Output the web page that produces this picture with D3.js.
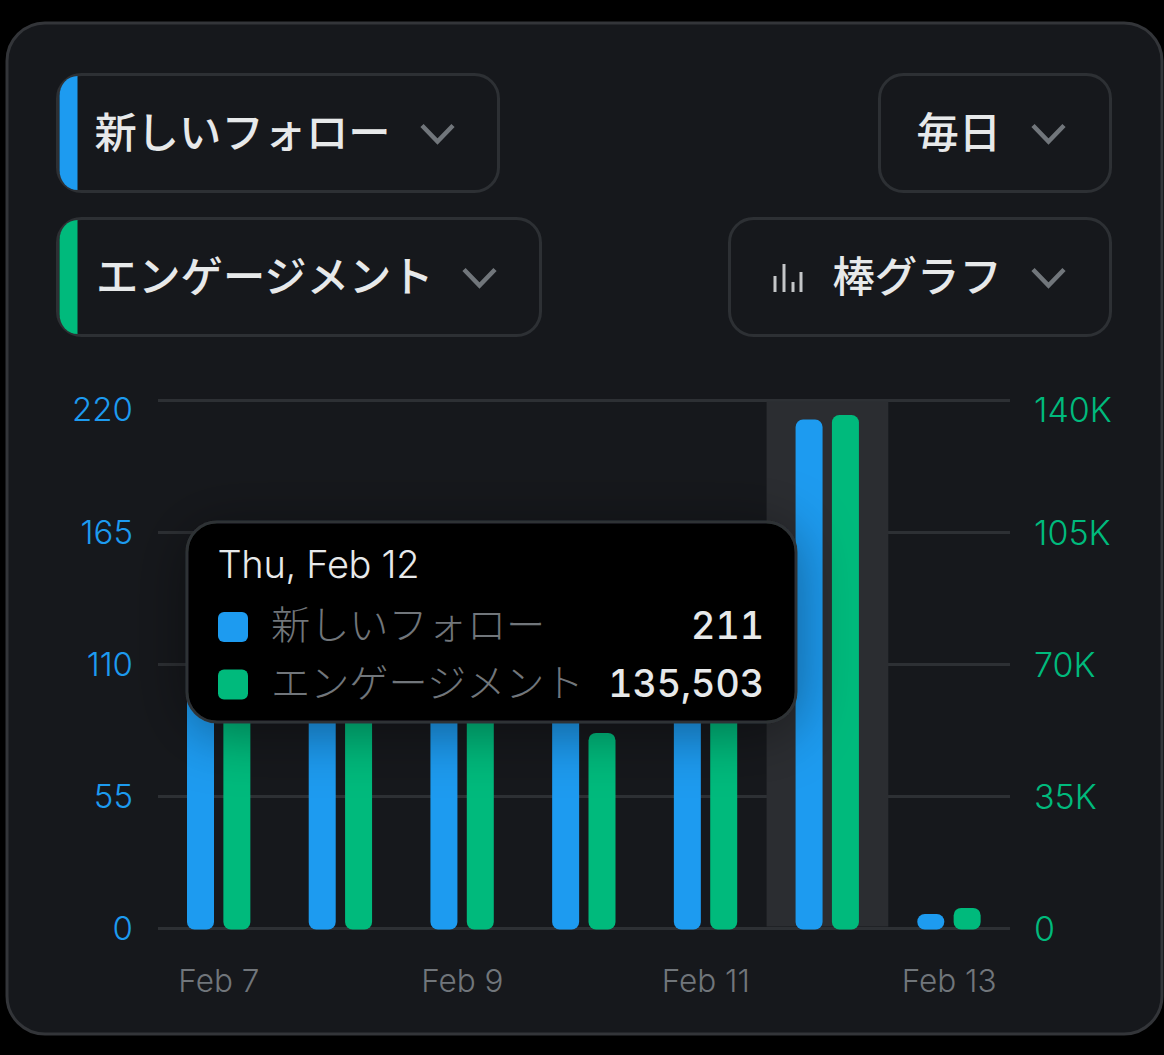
<!DOCTYPE html>
<html>
<head>
<meta charset="utf-8">
<script src="https://cdn.jsdelivr.net/npm/d3@7"></script>
<style>
  html, body { margin: 0; padding: 0; background: #000; }
  svg { display: block; }
  text { font-family: Inter, "Noto Sans CJK JP", sans-serif; }
  .jp { font-family: "Noto Sans CJK JP", sans-serif; }
</style>
</head>
<body>
<svg id="chart"></svg>
<script>
// values, bars behind the tooltip are estimated
const days = ["Feb 7", "Feb 8", "Feb 9", "Feb 10", "Feb 11", "Feb 12", "Feb 13"];
const follows = [110, 105, 100, 95, 110, 211, 5];
const engagement = [82000, 78000, 72000, 51200, 80000, 135503, 4800];
const seriesNames = ["新しいフォロー", "エンゲージメント"];
const leftTicks = [0, 55, 110, 165, 220];
const rightTicks = [0, 35000, 70000, 105000, 140000];
const xTicks = ["Feb 7", "Feb 9", "Feb 11", "Feb 13"];
const activeDay = "Feb 12";
const tooltipTitle = "Thu, Feb 12";

const width = 1164;
const height = 1055;
const blue = "#1d9bf0";
const green = "#00ba7c";
const border = "#2d3034";
const muted = "#71767b";
const textColor = "#e7e9ea";

const svg = d3.select("#chart").attr("width", width).attr("height", height);

const defs = svg.append("defs");
const shadow = defs.append("filter").attr("id", "tipShadow")
    .attr("x", "-20%").attr("y", "-30%").attr("width", "140%").attr("height", "170%");
shadow.append("feDropShadow").attr("dx", 0).attr("dy", 8).attr("stdDeviation", 30)
    .attr("flood-color", "#000").attr("flood-opacity", 0.4);

// card
svg.append("rect")
    .attr("x", 7).attr("y", 23).attr("width", 1155).attr("height", 1011).attr("rx", 38)
    .attr("fill", "#16181c").attr("stroke", "#333539").attr("stroke-width", 3);

// dropdown buttons
const chevron = (x, y) => svg.append("path")
    .attr("d", `M${x},${y} l15.5,16 l15.5,-16`)
    .attr("fill", "none").attr("stroke", muted).attr("stroke-width", 4.5);

const button = (x, y, w, label, textX, chevX, accent) => {
    svg.append("rect")
        .attr("x", x).attr("y", y).attr("width", w).attr("height", 117).attr("rx", 24)
        .attr("fill", "none").attr("stroke", border).attr("stroke-width", 3);
    if (accent) {
        svg.append("path")
            .attr("d", `M${x + 20},${y + 1.5} v114 a18,20 0 0 1 -18,-20 v-74 a18,20 0 0 1 18,-20 z`)
            .attr("fill", accent);
    }
    svg.append("text").attr("class", "jp")
        .attr("x", textX).attr("y", y + 73)
        .attr("font-size", 42.3).attr("font-weight", 500).attr("fill", textColor)
        .text(label);
    chevron(chevX, y + 51);
};

button(57.5, 74.5, 441, seriesNames[0], 94.5, 422, blue);
button(57.5, 218.5, 483, seriesNames[1], 96, 464, green);
button(879.5, 74.5, 231, "毎日", 916.5, 1033);
button(729.5, 218.5, 381, "棒グラフ", 832.5, 1033);

// little bar chart icon in the last button
svg.append("path")
    .attr("d", "M775,292 v-16 M784,292 v-28 M793,292 v-10 M801,292 v-20")
    .attr("stroke", "#c4c6c8").attr("stroke-width", 3).attr("fill", "none");

// scales
const x = d3.scaleBand().domain(days).range([158, 1010]);
const xInner = d3.scaleBand().domain([0, 1]).range([29, x.bandwidth() - 29 + 9]);
const yLeft = d3.scaleLinear().domain([0, 220]).range([928, 400]);
const yRight = d3.scaleLinear().domain([0, 140000]).range([928, 400]);

// left axis + grid lines
svg.append("g")
    .attr("transform", "translate(158,0)")
    .call(d3.axisLeft(yLeft).tickValues(leftTicks).tickSize(0).tickPadding(25))
    .call(g => g.select(".domain").remove())
    .call(g => g.selectAll(".tick line").attr("x2", 852).attr("stroke", border).attr("stroke-width", 3))
    .call(g => g.selectAll(".tick text")
        .attr("fill", blue).attr("font-size", 33).attr("font-weight", 300).attr("font-family", "Inter")
        .attr("dy", d => d === 220 ? "0.62em" : "0.36em"));

// right axis
svg.append("g")
    .attr("transform", "translate(1010,0)")
    .call(d3.axisRight(yRight).tickValues(rightTicks).tickSize(0).tickPadding(24)
        .tickFormat(d => d === 0 ? "0" : (d / 1000) + "K"))
    .call(g => g.select(".domain").remove())
    .call(g => g.selectAll(".tick text")
        .attr("fill", green).attr("font-size", 34).attr("font-weight", 300).attr("font-family", "Inter")
        .attr("dy", d => d === 140000 ? "0.62em" : "0.36em"));

// bottom axis
svg.append("g")
    .attr("transform", "translate(0,928)")
    .call(d3.axisBottom(x).tickValues(xTicks).tickSize(0).tickPadding(42))
    .call(g => g.select(".domain").remove())
    .call(g => g.selectAll(".tick text")
        .attr("fill", muted).attr("font-size", 31.5).attr("font-weight", 300).attr("font-family", "Inter"));

// hovered day, sits on top of the grid lines
svg.append("rect")
    .attr("x", x(activeDay)).attr("y", yLeft(220) + 1.5)
    .attr("width", x.bandwidth()).attr("height", yLeft(0) - yLeft(220) - 3)
    .attr("fill", "#2b2d31");

// bars
const barWidth = 27;
const barLift = 2;
svg.append("g").selectAll("rect").data(days).join("rect")
    .attr("x", d => x(d) + xInner(0))
    .attr("y", (d, i) => yLeft(follows[i]) - barLift)
    .attr("width", barWidth)
    .attr("height", (d, i) => yLeft(0) - yLeft(follows[i]) + barLift + 1.5)
    .attr("rx", 7.5)
    .attr("fill", blue);

svg.append("g").selectAll("rect").data(days).join("rect")
    .attr("x", d => x(d) + xInner(1))
    .attr("y", (d, i) => yRight(engagement[i]) - barLift)
    .attr("width", barWidth)
    .attr("height", (d, i) => yRight(0) - yRight(engagement[i]) + barLift + 1.5)
    .attr("rx", 7.5)
    .attr("fill", green);

// tooltip
const tipIndex = days.indexOf(activeDay);
const tip = svg.append("g");
tip.append("rect")
    .attr("x", 187).attr("y", 522).attr("width", 609).attr("height", 200).attr("rx", 30)
    .attr("fill", "#000").attr("stroke", "#2f3336").attr("stroke-width", 3)
    .attr("filter", "url(#tipShadow)");
tip.append("text")
    .attr("x", 217.5).attr("y", 578)
    .attr("font-size", 38).attr("font-weight", 300).attr("fill", textColor).attr("letter-spacing", -0.3)
    .text(tooltipTitle);

const tipRows = [
    { name: seriesNames[0], color: blue, value: follows[tipIndex] },
    { name: seriesNames[1], color: green, value: engagement[tipIndex] }
];
const rows = tip.selectAll("g.row").data(tipRows).join("g")
    .attr("class", "row")
    .attr("transform", (d, i) => `translate(0,${i * 57.5})`);
rows.append("rect")
    .attr("x", 218).attr("y", 612).attr("width", 30).attr("height", 30).attr("rx", 6)
    .attr("fill", d => d.color);
rows.append("text").attr("class", "jp")
    .attr("x", 271).attr("y", 639)
    .attr("font-size", 39.2).attr("font-weight", 300).attr("fill", muted)
    .text(d => d.name);
rows.append("text")
    .attr("x", 764).attr("y", 639)
    .attr("text-anchor", "end")
    .attr("font-size", 37.5).attr("font-weight", 500).attr("fill", textColor)
    .style("font-feature-settings", '"tnum"')
    .text(d => d3.format(",")(d.value));
</script>
</body>
</html>
